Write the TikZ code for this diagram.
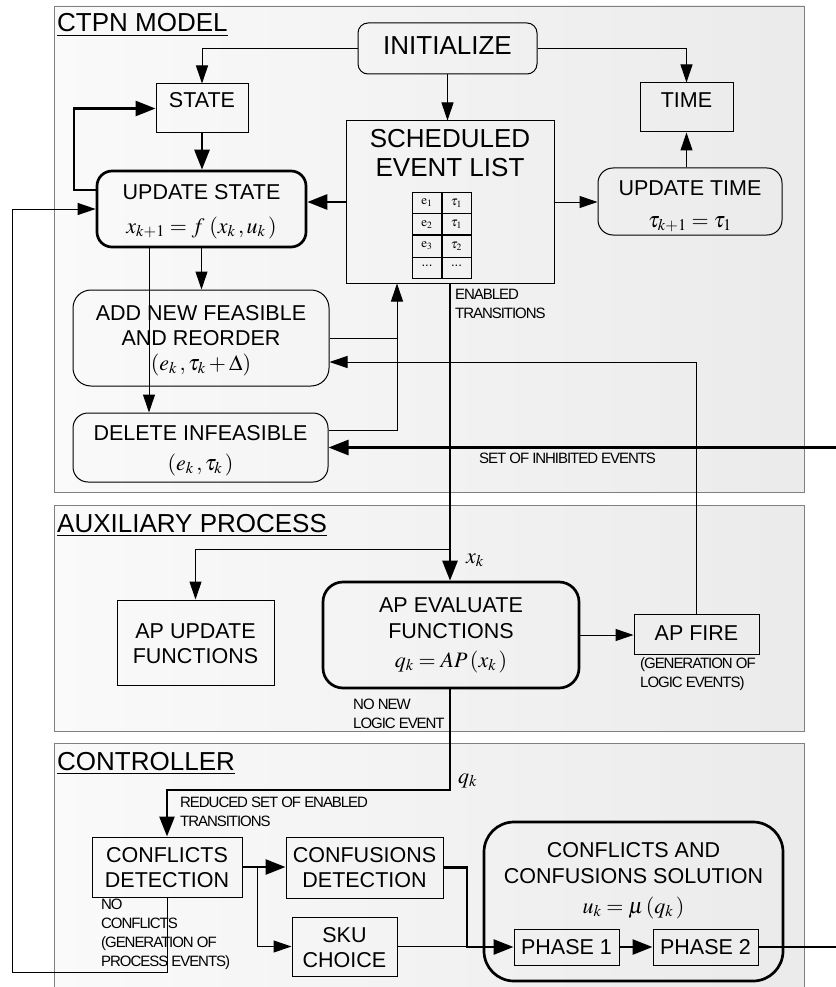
\documentclass[tikz,border=0pt]{standalone}
\usepackage{mathptmx}
\usepackage[no-math]{fontspec}
\setmainfont{Liberation Sans}
\newfontfamily\notefont[LetterSpace=-7]{Liberation Sans}
\usetikzlibrary{arrows.meta}
\newcommand\bodyfs{\fontsize{21.5}{25}\selectfont}
\newcommand\bigfs{\fontsize{26}{29}\selectfont}
\newcommand\notefs{\notefont\fontsize{15}{19}\selectfont}
\newcommand\cellfs{\fontsize{13}{15}\selectfont}
\newcommand\mathfs{\fontsize{22}{25}\selectfont}

\begin{document}
\begin{tikzpicture}[x=1pt,y=-1pt,
  panel/.style={draw=black!50,line width=0.9pt,left color=black!2,right color=black!8},
  sqbox/.style={draw,line width=1pt,inner sep=0pt},
  rbox/.style={draw,line width=1pt,inner sep=0pt,rounded corners=#1},
  rboxthick/.style={draw,line width=2.7pt,inner sep=0pt,rounded corners=#1},
  txt/.style={anchor=base,inner sep=0pt,font=\bodyfs},
  bigtxt/.style={anchor=base,inner sep=0pt,font=\bigfs},
  fml/.style={anchor=base,inner sep=0pt,font=\mathfs},
  % multi-line notes: the base anchor sits on the last line
  note/.style={anchor=base west,inner sep=0pt,font=\notefs,align=left},
  cell/.style={inner sep=0pt,font=\cellfs},
  thinarrow/.style={line width=1pt,-{Triangle[length=18pt,width=12pt]}},
  thickarrow/.style={line width=2.7pt,-{Triangle[length=20pt,width=15pt]}},
  thinline/.style={line width=1pt},
  thickline/.style={line width=2.7pt}]
\useasboundingbox (0,0) rectangle (835,987);

% ---------- panels ----------
\path[panel] (54,6) rectangle (804,492);
\path[panel] (54,505) rectangle (804,731);
\path[panel] (54,743) rectangle (804,995);
\node[bigtxt,anchor=base west] (ttl-ctpn) at (57,32) {\underline{CTPN MODEL}};
\node[bigtxt,anchor=base west] (ttl-aux) at (57,532) {\underline{AUXILIARY PROCESS}};
\node[bigtxt,anchor=base west] (ttl-ctrl) at (57,770) {\underline{CONTROLLER}};

% ---------- CTPN model blocks ----------
\node[rbox=10pt,minimum width=179pt,minimum height=51pt] (init) at (447.5,48.5) {};
\node[bigtxt] (init-t) at (447.5,55) {INITIALIZE};

\node[sqbox,minimum width=92pt,minimum height=49pt] (state) at (202,108.5) {};
\node[txt] (state-t) at (202,108) {STATE};

\node[sqbox,minimum width=93pt,minimum height=49pt] (time) at (686.5,107.5) {};
\node[txt] (time-t) at (686.5,108) {TIME};

\node[sqbox,minimum width=208pt,minimum height=162pt] (sel) at (450,202) {};
\node[bigtxt] (sel-t1) at (450,148) {SCHEDULED};
\node[bigtxt] (sel-t2) at (450,177) {EVENT LIST};
% event table
\draw[line width=0.7pt] (412,192) rectangle (471,278);
\draw[line width=0.7pt] (412,213) -- (471,213) (412,257) -- (471,257);
\draw[line width=1.8pt] (412,235) -- (471,235) (442,192) -- (442,278);
\node[cell] (c11) at (427,203) {$\mathrm{e}_1$};
\node[cell] (c12) at (456.5,203) {$\tau_1$};
\node[cell] (c21) at (427,224.5) {$\mathrm{e}_2$};
\node[cell] (c22) at (456.5,224.5) {$\tau_1$};
\node[cell] (c31) at (427,246) {$\mathrm{e}_3$};
\node[cell] (c32) at (456.5,246) {$\tau_2$};
\node[cell] (c41) at (427,266) {...};
\node[cell] (c42) at (456.5,266) {...};

\node[rboxthick=15pt,minimum width=209pt,minimum height=76pt] (us) at (201.5,209) {};
\node[txt] (us-t) at (201.5,200) {UPDATE STATE};
\node[fml] (us-f) at (201.5,233) {$x_{k+1} = f\,\left(x_k\,, u_k\,\right)$};

\node[rbox=15pt,minimum width=184pt,minimum height=67pt] (ut) at (690,201.5) {};
\node[txt] (ut-t) at (690,195) {UPDATE TIME};
\node[fml] (ut-f) at (690,227) {$\tau_{k+1} = \tau_1$};

\node[rbox=18pt,minimum width=256pt,minimum height=96pt] (add) at (201,338) {};
\node[txt] (add-t1) at (201,320) {ADD NEW FEASIBLE};
\node[txt] (add-t2) at (201,345) {AND REORDER};
\node[fml] (add-f) at (201,370) {$\left(e_k\,, \tau_k + \Delta\right)$};

\node[rbox=15pt,minimum width=255pt,minimum height=69pt] (del) at (200.5,447.5) {};
\node[txt] (del-t) at (200.5,440) {DELETE INFEASIBLE};
\node[fml] (del-f) at (200.5,470) {$\left(e_k\,, \tau_k\,\right)$};

% ---------- auxiliary process blocks ----------
\node[sqbox,minimum width=157pt,minimum height=85pt] (apu) at (195.5,642.5) {};
\node[txt] (apu-t1) at (195.5,638) {AP UPDATE};
\node[txt] (apu-t2) at (195.5,663) {FUNCTIONS};

\node[rboxthick=20pt,minimum width=256pt,minimum height=106pt] (ape) at (451,635) {};
\node[txt] (ape-t1) at (451,612) {AP EVALUATE};
\node[txt] (ape-t2) at (451,638) {FUNCTIONS};
\node[fml] (ape-f) at (451,667) {$q_k = AP\left(x_k\,\right)$};

\node[sqbox,minimum width=125pt,minimum height=40pt] (apf) at (696.5,634) {};
\node[txt] (apf-t) at (696.5,640) {AP FIRE};
\node[note] (apf-n) at (640,687) {(GENERATION OF\\LOGIC EVENTS)};

% ---------- controller blocks ----------
\node[sqbox,minimum width=150pt,minimum height=60pt] (cd) at (167,867) {};
\node[txt] (cd-t1) at (167,862) {CONFLICTS};
\node[txt] (cd-t2) at (167,887) {DETECTION};

\node[sqbox,minimum width=157pt,minimum height=61pt] (cfd) at (364.5,867.5) {};
\node[txt] (cfd-t1) at (364.5,862) {CONFUSIONS};
\node[txt] (cfd-t2) at (364.5,887) {DETECTION};

\node[sqbox,minimum width=105pt,minimum height=59pt] (sku) at (344.5,946.5) {};
\node[txt] (sku-t1) at (344.5,942) {SKU};
\node[txt] (sku-t2) at (344.5,967) {CHOICE};

\node[rboxthick=30pt,minimum width=299pt,minimum height=159pt] (sol) at (633.5,901.5) {};
\node[txt] (sol-t1) at (633.5,857) {CONFLICTS AND};
\node[txt] (sol-t2) at (633.5,883) {CONFUSIONS SOLUTION};
\node[fml] (sol-f) at (633.5,913) {$u_k = \mu\left(q_k\,\right)$};

\node[sqbox,minimum width=105pt,minimum height=36pt] (ph1) at (566.5,947) {};
\node[txt] (ph1-t) at (566.5,954) {PHASE 1};
\node[sqbox,minimum width=105pt,minimum height=36pt] (ph2) at (705.5,947) {};
\node[txt] (ph2-t) at (705.5,954) {PHASE 2};

% ---------- helper points for routing ----------
\coordinate (loopL) at (74,190);
\coordinate (dropx) at (149,0);
\coordinate (retx) at (397,0);
\coordinate (xkb) at (450,549);
\coordinate (inhib) at (840,0);
\coordinate (qkrow) at (0,790);
\coordinate (skux) at (257,0);
\coordinate (jx) at (467,0);
\coordinate (outR) at (840,0);
\coordinate (fbB) at (12,972);

% ---------- connectors: CTPN model ----------
\draw[thinarrow] (init.west) -| (state.north);
\draw[thinarrow] (init.east) -| (time.north);
\draw[thinarrow] (init.south) -- (init.south |- sel.north);
\draw[thickarrow] (state.south) -- (state.south |- us.north);
\draw[thickarrow] (us.west |- loopL) -- (loopL) |- (state.west);
\draw[thickarrow] (sel.west) -- (sel.west -| us.east);
\draw[thinarrow] (sel.east) -- (sel.east -| ut.west);
\draw[thinarrow] (time.south |- ut.north) -- (time.south);
\draw[thinarrow] (us.south) -- (us.south |- add.north);
\draw[thinarrow] (dropx |- us.south) -- (dropx |- del.north);
\draw[thinarrow] ([yshift=17.5pt]del.east) -| (retx |- sel.south);
\draw[thinline] (add.east) -- (add.east -| retx);
\draw[thickarrow] (del.east -| inhib) -- (del.east);
\node[note] (inhib-t) at (479,463) {SET OF INHIBITED EVENTS};

% ---------- connectors: auxiliary process ----------
\draw[thickarrow] (sel.south) -- (sel.south |- ape.north);
\node[note] (enab-t) at (455,318) {ENABLED\\TRANSITIONS};
\draw[thinarrow] (xkb) -| (apu.north);
\node[fml,anchor=base west] (xk-t) at (466,563) {$x_k$};
\draw[thinarrow] (ape.east) -- (ape.east -| apf.west);
\draw[thinarrow] (apf.north) |- ([yshift=-24pt]add.east);

% ---------- connectors: controller ----------
\draw[thickarrow] (sel.south |- ape.south) -- (sel.south |- qkrow) -| (cd.north);
\node[note] (nonew-t) at (353,728) {NO NEW\\LOGIC EVENT};
\node[fml,anchor=base west] (qk-t) at (458,783) {$q_k$};
\node[note] (red-t) at (180,826) {REDUCED SET OF ENABLED\\TRANSITIONS};
\draw[thickarrow] (cd.east) -- (cd.east -| cfd.west);
\draw[thinarrow] (skux |- cd.east) |- (sku.west);
\draw[thickarrow] (cfd.east) -- (cfd.east -| jx) |- (ph1.west);
\draw[thinline] (sku.east) -- (sku.east -| jx);
\draw[thickarrow] (ph1.east) -- (ph2.west);
\draw[thickline] (ph2.east) -- (ph2.east -| outR);
\draw[thinarrow] (cd.south) |- (fbB) |- (us.west);
\node[note] (nocf-t) at (101,966) {NO\\CONFLICTS\\(GENERATION OF\\PROCESS EVENTS)};
\end{tikzpicture}
\end{document}
